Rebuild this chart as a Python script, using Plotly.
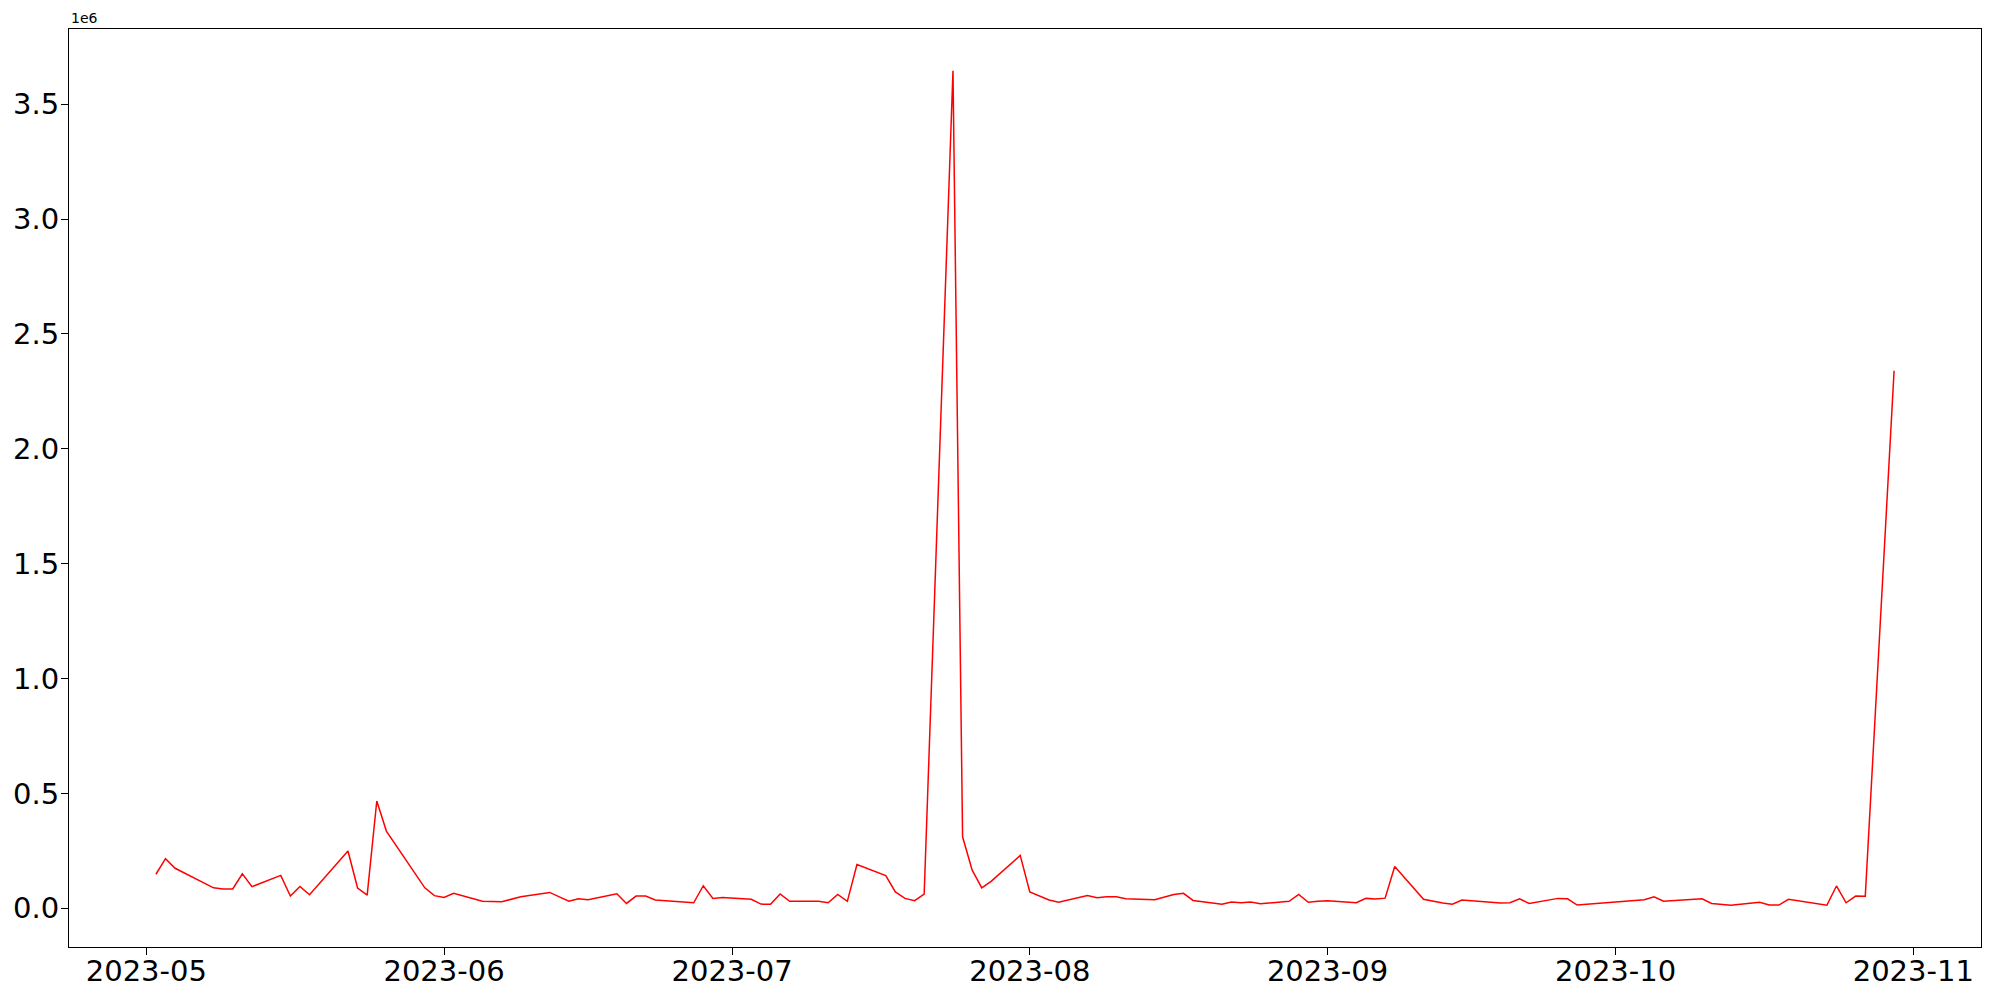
import pandas as pd
import plotly.graph_objects as go

# daily values
dates = [
    "2023-05-02", "2023-05-03", "2023-05-04", "2023-05-08", "2023-05-09", "2023-05-10",
    "2023-05-11", "2023-05-12", "2023-05-15", "2023-05-16", "2023-05-17", "2023-05-18",
    "2023-05-22", "2023-05-23", "2023-05-24", "2023-05-25", "2023-05-26", "2023-05-30",
    "2023-05-31", "2023-06-01", "2023-06-02", "2023-06-05", "2023-06-07", "2023-06-09",
    "2023-06-12", "2023-06-14", "2023-06-15", "2023-06-16", "2023-06-19", "2023-06-20",
    "2023-06-21", "2023-06-22", "2023-06-23", "2023-06-27", "2023-06-28", "2023-06-29",
    "2023-06-30", "2023-07-03", "2023-07-04", "2023-07-05", "2023-07-06", "2023-07-07",
    "2023-07-10", "2023-07-11", "2023-07-12", "2023-07-13", "2023-07-14", "2023-07-17",
    "2023-07-18", "2023-07-19", "2023-07-20", "2023-07-21", "2023-07-24", "2023-07-25",
    "2023-07-26", "2023-07-27", "2023-07-28", "2023-07-31", "2023-08-01", "2023-08-03",
    "2023-08-04", "2023-08-07", "2023-08-08", "2023-08-09", "2023-08-10", "2023-08-11",
    "2023-08-14", "2023-08-16", "2023-08-17", "2023-08-18", "2023-08-21", "2023-08-22",
    "2023-08-23", "2023-08-24", "2023-08-25", "2023-08-28", "2023-08-29", "2023-08-30",
    "2023-08-31", "2023-09-01", "2023-09-04", "2023-09-05", "2023-09-06", "2023-09-07",
    "2023-09-08", "2023-09-11", "2023-09-13", "2023-09-14", "2023-09-15", "2023-09-19",
    "2023-09-20", "2023-09-21", "2023-09-22", "2023-09-25", "2023-09-26", "2023-09-27",
    "2023-10-04", "2023-10-05", "2023-10-06", "2023-10-10", "2023-10-11", "2023-10-13",
    "2023-10-16", "2023-10-17", "2023-10-18", "2023-10-19", "2023-10-23", "2023-10-24",
    "2023-10-25", "2023-10-26", "2023-10-27", "2023-10-30",
]

values = [
    148000, 216000, 174000, 89000, 84000, 84000,
    150000, 94000, 143000, 53000, 95000, 59000,
    249000, 88000, 57000, 467000, 336000, 89000,
    55000, 47000, 65000, 31000, 28000, 50000,
    69000, 31000, 41000, 37000, 63000, 21000,
    53000, 53000, 36000, 24000, 98000, 43000,
    47000, 39000, 18000, 17000, 62000, 30000,
    31000, 24000, 60000, 30000, 190000, 142000,
    71000, 43000, 33000, 62000, 3646000, 311000,
    166000, 89000, 118000, 230000, 71000, 36000,
    26000, 55000, 46000, 50000, 50000, 41000,
    37000, 60000, 65000, 34000, 17000, 27000,
    24000, 27000, 20000, 30000, 60000, 26000,
    31000, 33000, 24000, 43000, 40000, 44000,
    182000, 39000, 23000, 18000, 36000, 23000,
    24000, 41000, 21000, 43000, 41000, 14000,
    37000, 50000, 31000, 41000, 21000, 13000,
    26000, 14000, 14000, 39000, 13000, 97000,
    24000, 53000, 52000, 2340000,
]

y_ticks = [0, 500000, 1000000, 1500000, 2000000, 2500000, 3000000, 3500000]
y_tick_labels = ["0.0", "0.5", "1.0", "1.5", "2.0", "2.5", "3.0", "3.5"]

df = pd.DataFrame({"Date": pd.to_datetime(dates), "Value": values})

# 5% padding on both axes, like matplotlib does
x_pad = (df["Date"].max() - df["Date"].min()) * 0.05
y_pad = (df["Value"].max() - df["Value"].min()) * 0.05

fig = go.Figure()
fig.add_scatter(x=df["Date"], y=df["Value"], mode="lines",
                line=dict(color="red", width=1.5), showlegend=False)

axis_style = dict(
    showline=True, linecolor="black", linewidth=1, mirror=True,
    ticks="outside", ticklen=7, tickwidth=1, tickcolor="black",
    showgrid=False, zeroline=False, automargin=False,
    tickfont=dict(size=29, color="black"),
)

fig.update_xaxes(
    range=[df["Date"].min() - x_pad, df["Date"].max() + x_pad],
    tickformat="%Y-%m", dtick="M1", tick0="2023-05-01",
    ticklabelstandoff=-9,
    **axis_style,
)
fig.update_yaxes(
    range=[df["Value"].min() - y_pad, df["Value"].max() + y_pad],
    tickvals=y_ticks, ticktext=y_tick_labels,
    ticklabelstandoff=-4,
    **axis_style,
)

fig.add_annotation(text="1e6", xref="paper", yref="paper", x=0, y=1,
                   xanchor="left", yanchor="bottom", showarrow=False,
                   font=dict(size=14, color="black"), yshift=1)

# page body adds an 8px margin, so the figure is 16px smaller than the window
fig.update_layout(
    width=1984, height=984, autosize=False,
    margin=dict(l=61, r=11, t=21, b=45),
    plot_bgcolor="white", paper_bgcolor="white",
    font=dict(family="DejaVu Sans", color="black"),
)

fig.write_html("out.html")
